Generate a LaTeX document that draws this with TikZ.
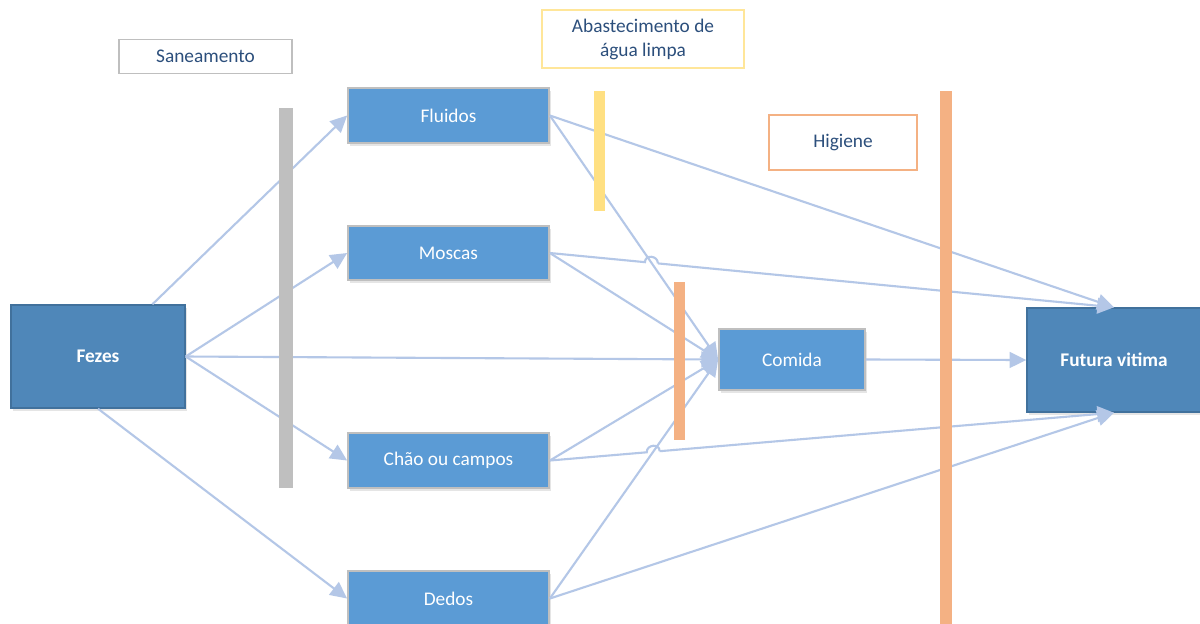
\documentclass[tikz,border=0pt]{standalone}
\usepackage{fontspec}
\setmainfont{Carlito}
\usetikzlibrary{arrows.meta,calc,intersections,shadows}

\definecolor{boxblue}{HTML}{5B9BD5}
\definecolor{deepblue}{HTML}{4F87B9}
\definecolor{deepedge}{HTML}{41719C}
\definecolor{linkblue}{HTML}{B4C7E7}
\definecolor{bargray}{HTML}{BFBFBF}
\definecolor{baryellow}{HTML}{FFE082}
\definecolor{edgeyellow}{HTML}{FFE699}
\definecolor{barorange}{HTML}{F4B183}
\definecolor{labeltext}{HTML}{2C4F7C}

\tikzset{
  txt/.style={font=\fontsize{11}{13.6}\selectfont, inner sep=0pt, align=center},
  softshadow/.style={drop shadow={shadow xshift=1.2pt, shadow yshift=-1.6pt, fill=black, opacity=0.10}},
  midbox/.style={txt, fill=boxblue, draw=bargray, line width=1pt, text=white, softshadow},
  mainbox/.style={txt, fill=deepblue, draw=deepedge, line width=0.8pt, text=white, font=\fontsize{11}{13.6}\selectfont\bfseries, softshadow},
  labelbox/.style={txt, fill=white, line width=1pt, text=labeltext},
  barnode/.style={inner sep=0pt, draw=none},
  conn/.style={draw=linkblue, line width=1.2pt, -{Triangle[length=9.5pt,width=9pt]}},
  plain/.style={draw=linkblue, line width=1.2pt},
}

\begin{document}
\begin{tikzpicture}[x=0.02cm, y=-0.02cm]
\clip (0,0) rectangle (1200,623);
\fill[white] (0,0) rectangle (1200,623);

% boxes
\node[mainbox, minimum width=3.48cm, minimum height=2.06cm] (fezes) at (98,356.5) {Fezes};
\node[mainbox, minimum width=3.48cm, minimum height=2.08cm] (futura) at (1114,360) {Futura vitima};
\node[midbox, minimum width=4.02cm, minimum height=1.10cm] (fluidos) at (448.5,115.5) {Fluidos};
\node[midbox, minimum width=4.02cm, minimum height=1.08cm] (moscas) at (448.5,253) {Moscas};
\node[midbox, minimum width=4.02cm, minimum height=1.10cm] (chao) at (448.5,460.5) {Chão ou campos};
\node[midbox, minimum width=4.02cm, minimum height=1.10cm] (dedos) at (448.5,598.5) {Dedos};
\node[midbox, minimum width=2.92cm, minimum height=1.22cm] (comida) at (792,359.5) {Comida};

% barrier labels
\node[labelbox, draw=bargray, minimum width=3.46cm, minimum height=0.68cm] (saneamento) at (205.5,56.5) {Saneamento};
\node[labelbox, draw=edgeyellow, minimum width=4.04cm, minimum height=1.16cm] (agua) at (643,39) {Abastecimento de\\água limpa};
\node[labelbox, draw=barorange, minimum width=2.96cm, minimum height=1.10cm] (higiene) at (843,142.5) {Higiene};

% straight connectors
\coordinate (fezesout) at ($(fezes.north west)!0.81!(fezes.north east)$);
\draw[conn] (fezesout) -- (fluidos.west);
\draw[conn] (fezes.east) -- (moscas.west);
\draw[conn] (fezes.east) -- (comida.west);
\draw[conn] (fezes.east) -- (chao.west);
\draw[conn] (fezes.south) -- (dedos.west);

\draw[conn] (fluidos.east) -- (comida.west);
\draw[conn] (moscas.east) -- (comida.west);
\draw[conn] (chao.east) -- (comida.west);
\draw[conn] (dedos.east) -- (comida.west);

\draw[conn] (fluidos.east) -- (futura.north);
\draw[conn] (comida.east) -- (futura.west);
\draw[conn] (dedos.east) -- (futura.south);

% connectors with a hop over a crossing line
\path[name path=fluidoscomida] (fluidos.east) -- (comida.west);
\path[name path=moscasfutura] (moscas.east) -- (futura.north);
\path[name intersections={of=fluidoscomida and moscasfutura, by=hopa}];
\draw[plain] (moscas.east) -- ($(hopa)!3.7pt!(moscas.east)$)
  .. controls +(0,-8) and +(0,-8) .. ($(hopa)!3.7pt!(futura.north)$);
\draw[conn] ($(hopa)!3.7pt!(futura.north)$) -- (futura.north);

\path[name path=dedoscomida] (dedos.east) -- (comida.west);
\path[name path=chaofutura] (chao.east) -- (futura.south);
\path[name intersections={of=dedoscomida and chaofutura, by=hopb}];
\draw[plain] (chao.east) -- ($(hopb)!3.7pt!(chao.east)$)
  .. controls +(0,-8) and +(0,-8) .. ($(hopb)!3.7pt!(futura.south)$);
\draw[conn] ($(hopb)!3.7pt!(futura.south)$) -- (futura.south);

% barriers drawn over the routes
\node[barnode, fill=bargray, minimum width=0.28cm, minimum height=7.60cm] (barsan) at (286,298) {};
\node[barnode, fill=baryellow, minimum width=0.22cm, minimum height=2.40cm] (baragua) at (599.5,151) {};
\node[barnode, fill=barorange, minimum width=0.22cm, minimum height=3.16cm] (barcomida) at (679.5,361) {};
\node[barnode, fill=barorange, minimum width=0.24cm, minimum height=11.0cm] (barhig) at (946,366) {};
\end{tikzpicture}
\end{document}
